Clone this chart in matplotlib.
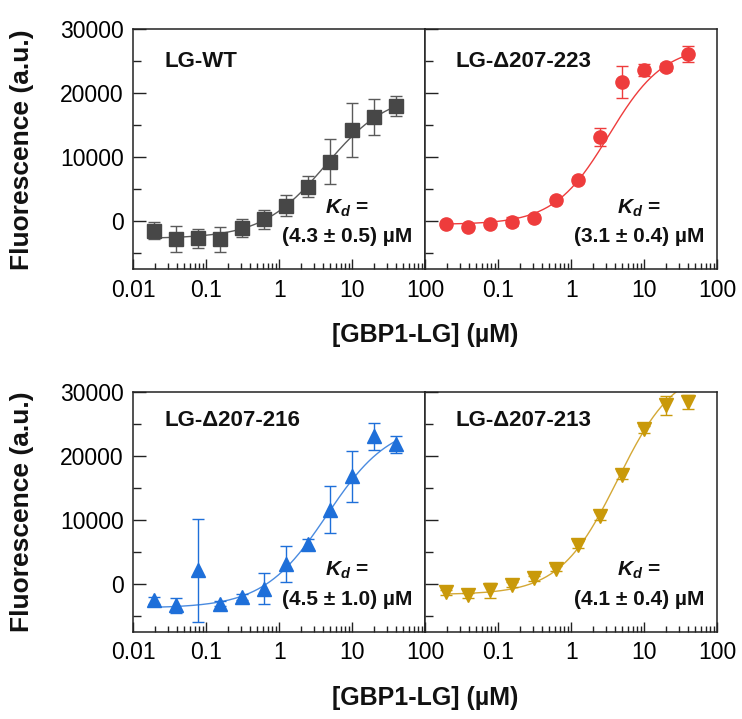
import numpy as np
import matplotlib
matplotlib.use('Agg')
import matplotlib.pyplot as plt
from matplotlib.ticker import FixedLocator, MultipleLocator, NullFormatter

plt.rcParams['font.family'] = ['Liberation Sans', 'DejaVu Sans']
plt.rcParams['mathtext.fontset'] = 'custom'
plt.rcParams['mathtext.it'] = 'Liberation Sans:italic:bold'
plt.rcParams['mathtext.rm'] = 'Liberation Sans:bold'

# ---------------- data ----------------
conc = [0.0195, 0.039, 0.078, 0.156, 0.3125, 0.625, 1.25, 2.5, 5, 10, 20, 40]

wt_y = [-1470, -2770, -2660, -2820, -1100, 300, 2440, 5400, 9300, 14270, 16350, 18020]
wt_err = [1300, 2000, 1500, 2000, 1400, 1500, 1650, 1600, 3500, 4200, 2800, 1600]

d223_y = [-420, -840, -420, -60, 570, 3330, 6450, 13220, 21800, 23640, 24060, 26140]
d223_err = [300, 300, 300, 700, 400, 400, 400, 1400, 2500, 1000, 600, 1300]

d216_y = [-2610, -3400, 2080, -3130, -2100, -790, 3130, 6260, 11590, 16800, 23060, 21760]
d216_err = [500, 1200, 8000, 400, 500, 2450, 2800, 800, 3600, 4000, 2100, 1300]

d213_y = [-1310, -1830, -1050, -160, 880, 2350, 6100, 10590, 16960, 24100, 27900, 28420]
d213_err = [400, 400, 1200, 400, 400, 400, 500, 600, 600, 500, 1500, 1100]

# fitted binding curve parameters: (bottom, top, K, hill n)
wt_fit = (-2700, 20200, 4.3, 1.0)
d223_fit = (-500, 27500, 3.3, 1.15)
d216_fit = (-3800, 25270, 4.5, 1.0)
d213_fit = (-1700, 34100, 4.3, 1.1)

labels = ['LG-WT', 'LG-Δ207-223', 'LG-Δ207-216', 'LG-Δ207-213']
kd_texts = ['(4.3 ± 0.5) µM', '(3.1 ± 0.4) µM', '(4.5 ± 1.0) µM', '(4.1 ± 0.4) µM']

x_ticks = [0.01, 0.1, 1, 10, 100]
y_ticks = [0, 10000, 20000, 30000]

colors = ['#474747', '#EE3C3C', '#1E6FD9', '#C9990A']
line_colors = ['#5a5a5a', '#EE3C3C', '#4A8BE0', '#D4A835']
markers = ['s', 'o', '^', 'v']
msizes = [9.5, 9.5, 10.5, 10.5]

ys = [wt_y, d223_y, d216_y, d213_y]
errs = [wt_err, d223_err, d216_err, d213_err]
fits = [wt_fit, d223_fit, d216_fit, d213_fit]

# ---------------- figure ----------------
fig = plt.figure(figsize=(7.42, 7.19), dpi=100)

left = 0.1796
w = 0.3935
h = 0.3338
bottoms = [0.6255, 0.1214]
label_y = [0.865, 0.882]

axes = []
for r in range(2):
    for c in range(2):
        ax = fig.add_axes([left + c * w, bottoms[r], w, h])
        axes.append(ax)

for i, ax in enumerate(axes):
    r, c = divmod(i, 2)
    b, t, K, n = fits[i]
    xf = np.logspace(np.log10(conc[0]), np.log10(conc[-1]), 300)
    yf = b + (t - b) * xf ** n / (K ** n + xf ** n)
    ax.plot(xf, yf, color=line_colors[i], lw=1.0, zorder=2)
    ax.errorbar(conc, ys[i], yerr=errs[i], fmt=markers[i], color=colors[i],
                ms=msizes[i], mec=colors[i], ecolor=line_colors[i] if i == 0 else colors[i],
                elinewidth=1.0, capsize=4, capthick=1.0, zorder=3)
    ax.set_xscale('log')
    ax.set_xlim(0.01, 100)
    ax.set_ylim(-7500, 30000)

    ax.xaxis.set_major_locator(FixedLocator(x_ticks))
    ax.xaxis.set_minor_locator(FixedLocator(
        [m * 10.0 ** e for e in range(-2, 2) for m in range(2, 10)]))
    ax.xaxis.set_minor_formatter(NullFormatter())
    if c == 0:
        ax.set_xticklabels([f'{v:g}' for v in x_ticks])
    else:
        ax.set_xticklabels([''] + [f'{v:g}' for v in x_ticks[1:]])

    ax.yaxis.set_major_locator(FixedLocator(y_ticks))
    ax.yaxis.set_minor_locator(MultipleLocator(5000))
    if c == 0:
        ax.set_yticklabels([f'{v:d}' for v in y_ticks])
    else:
        ax.set_yticklabels([])

    ax.tick_params(which='both', direction='in', top=False, right=False,
                   labelsize=16.5, width=1.0, color='#222222')
    ax.tick_params(which='major', length=7, pad=7)
    ax.tick_params(which='minor', length=4)
    ax.tick_params(axis='y', which='major', length=9)
    ax.tick_params(axis='y', which='minor', length=6)
    for s in ax.spines.values():
        s.set_linewidth(1.1)
        s.set_color('#222222')

    ax.text(0.104 if c else 0.108, label_y[r], labels[i], transform=ax.transAxes,
            fontsize=16, fontweight='bold', ha='left', va='center', color='#111111')
    ax.text(0.733, 0.254, r'$K_d$ =', transform=ax.transAxes, fontsize=15,
            fontweight='bold', ha='center', va='center', color='#111111')
    ax.text(0.733, 0.136, kd_texts[i], transform=ax.transAxes, fontsize=15,
            fontweight='bold', ha='center', va='center', color='#111111')

for r in range(2):
    fig.text(0.0296, bottoms[r] + h / 2, 'Fluorescence (a.u.)', rotation=90,
             fontsize=19, fontweight='bold', ha='center', va='center', color='#111111')
    fig.text(0.5728, bottoms[r] - 0.092, '[GBP1-LG] (µM)', fontsize=18,
             fontweight='bold', ha='center', va='center', color='#111111')

fig.savefig('out.png', dpi=100)
